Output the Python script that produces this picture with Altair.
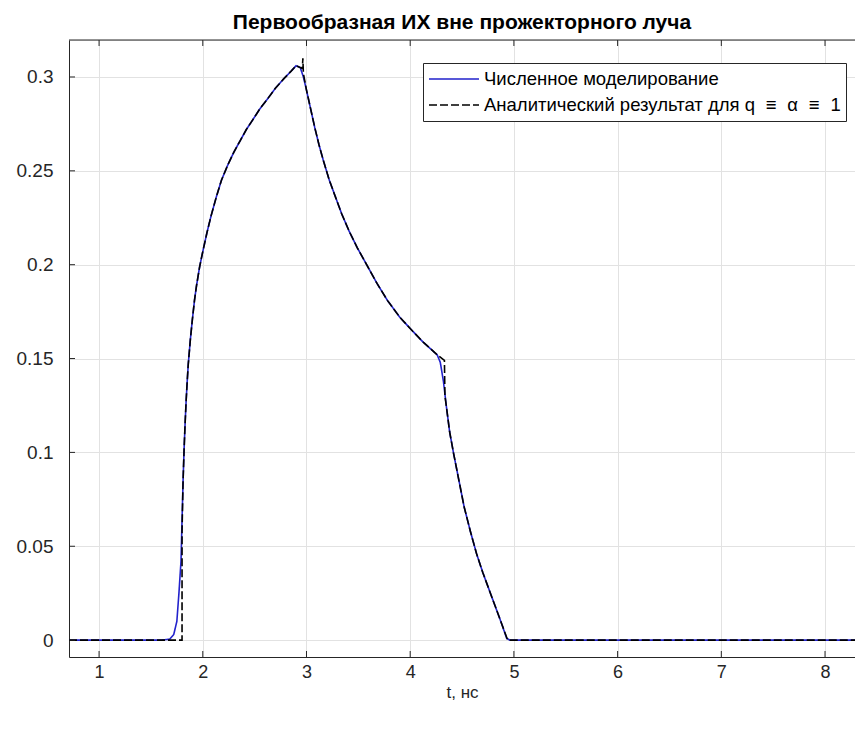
import altair as alt
import pandas as pd

SP = "\u2002\u200a"
NUM = "Численное моделирование"
ANA = "Аналитический результат для q" + SP + "≡" + SP + "α" + SP + "≡" + SP + "1"

t_num = [0.71, 1.60, 1.68, 1.72, 1.75, 1.77, 1.79, 1.80, 1.81, 1.82, 1.83, 1.84, 1.85, 1.86,
         1.88, 1.90, 1.92, 1.94, 1.97, 2.00, 2.04, 2.08, 2.13, 2.18, 2.24, 2.30, 2.36, 2.42,
         2.48, 2.55, 2.62, 2.70, 2.78, 2.85, 2.90, 2.94, 2.97, 3.00, 3.04, 3.08, 3.12, 3.16,
         3.22, 3.28, 3.34, 3.41, 3.49, 3.58, 3.68, 3.78, 3.90, 4.00, 4.12, 4.20, 4.26, 4.29,
         4.32, 4.35, 4.38, 4.42, 4.47, 4.52, 4.58, 4.64, 4.70, 4.76, 4.82, 4.88, 4.93, 4.96, 8.50]
y_num = [0.0, 0.0, 0.0005, 0.003, 0.010, 0.025, 0.042, 0.064, 0.085, 0.102, 0.116, 0.128, 0.138, 0.147,
         0.160, 0.171, 0.181, 0.189, 0.199, 0.207, 0.217, 0.226, 0.236, 0.245, 0.253, 0.260, 0.266, 0.272,
         0.277, 0.283, 0.288, 0.294, 0.299, 0.303, 0.306, 0.305, 0.300, 0.293, 0.283, 0.273, 0.264, 0.256,
         0.245, 0.236, 0.227, 0.218, 0.209, 0.200, 0.190, 0.181, 0.172, 0.166, 0.159, 0.155, 0.152, 0.148,
         0.138, 0.124, 0.111, 0.099, 0.085, 0.071, 0.058, 0.046, 0.036, 0.027, 0.018, 0.009, 0.001, 0.0, 0.0]

t_ana = [0.71, 1.80, 1.80, 1.81, 1.82, 1.83, 1.84, 1.85, 1.86, 1.88, 1.90, 1.92, 1.94, 1.97,
         2.00, 2.04, 2.08, 2.13, 2.18, 2.24, 2.30, 2.36, 2.42, 2.48, 2.55, 2.62, 2.70, 2.78,
         2.85, 2.90, 2.96, 2.965, 2.97, 3.00, 3.04, 3.08, 3.12, 3.16, 3.22, 3.28, 3.34, 3.41,
         3.49, 3.58, 3.68, 3.78, 3.90, 4.00, 4.12, 4.20, 4.26, 4.33, 4.335, 4.35, 4.38, 4.42,
         4.47, 4.52, 4.58, 4.64, 4.70, 4.76, 4.82, 4.88, 4.94, 8.50]
y_ana = [0.0, 0.0, 0.058, 0.085, 0.102, 0.116, 0.128, 0.138, 0.147, 0.160, 0.171, 0.181, 0.189, 0.199,
         0.207, 0.217, 0.226, 0.236, 0.245, 0.253, 0.260, 0.266, 0.272, 0.277, 0.283, 0.288, 0.294, 0.299,
         0.303, 0.306, 0.3045, 0.310, 0.302, 0.293, 0.283, 0.273, 0.264, 0.256, 0.245, 0.236, 0.227, 0.218,
         0.209, 0.200, 0.190, 0.181, 0.172, 0.166, 0.159, 0.155, 0.152, 0.149, 0.130, 0.124, 0.111, 0.099,
         0.085, 0.071, 0.058, 0.046, 0.036, 0.027, 0.018, 0.009, 0.0, 0.0]

x_ticks = [1, 2, 3, 4, 5, 6, 7, 8]
y_ticks = [0, 0.05, 0.1, 0.15, 0.2, 0.25, 0.3]

W, H = 786, 617

df_num = pd.DataFrame({"t": t_num, "v": y_num, "series": NUM, "i": range(len(t_num))})
df_ana = pd.DataFrame({"t": t_ana, "v": y_ana, "series": ANA, "i": range(len(t_ana))})

xscale = alt.Scale(domain=[0.71, 8.289], nice=False, zero=False)
yscale = alt.Scale(domain=[-0.009, 0.3197], nice=False, zero=False)

FONT = "Liberation Sans"
TXT = "#262626"
GRID = "#e2e2e2"

x_enc = alt.X("t:Q", scale=xscale, axis=alt.Axis(
    values=x_ticks, format="d", title="t, нс", grid=True, tickSize=0,
    domain=True, domainColor=TXT, domainWidth=1,
    labelPadding=6, labelFontSize=18, labelFont=FONT,
    labelColor=TXT, titleFontSize=17, titleFont=FONT,
    titleFontWeight="normal", titleColor=TXT, titlePadding=3, gridColor=GRID))
y_enc = alt.Y("v:Q", scale=yscale, axis=alt.Axis(
    values=y_ticks, format="~g", title=None, grid=True, tickSize=0,
    domain=True, domainColor=TXT, domainWidth=1,
    labelPadding=16, labelFontSize=19, labelFont=FONT, labelColor=TXT, gridColor=GRID))


def make_legend():
    return alt.Legend(title=None, orient="none", legendX=354, legendY=23,
                      symbolType="stroke", symbolSize=2500, symbolStrokeWidth=1.6,
                      clipHeight=22, labelFontSize=18.5, labelFont=FONT, labelColor="#000000",
                      strokeColor="#262626", fillColor="white", padding=5,
                      labelOffset=4, rowPadding=4, labelLimit=600)


color = alt.Color("series:N", scale=alt.Scale(domain=[NUM, ANA], range=["#2222cc", "#000000"]),
                  legend=make_legend())
dash = alt.StrokeDash("series:N", scale=alt.Scale(domain=[NUM, ANA], range=[[1, 0], [8, 3]]),
                      legend=make_legend())

blue = alt.Chart(df_num).mark_line(clip=True, strokeWidth=1.6).encode(
    x=x_enc, y=y_enc, color=color, strokeDash=dash, order="i:Q")
black = alt.Chart(df_ana).mark_line(clip=True, strokeWidth=1.6).encode(
    x="t:Q", y="v:Q", color=color, strokeDash=dash, order="i:Q")

df_xt = pd.DataFrame({"t": x_ticks})
df_yt = pd.DataFrame({"v": y_ticks})
xt_bottom = alt.Chart(df_xt).mark_rule(color=TXT, strokeWidth=1).encode(
    x="t:Q", y=alt.value(H), y2=alt.value(H - 6))
xt_top = alt.Chart(df_xt).mark_rule(color=TXT, strokeWidth=1).encode(
    x="t:Q", y=alt.value(0), y2=alt.value(6))
yt_left = alt.Chart(df_yt).mark_rule(color=TXT, strokeWidth=1).encode(
    y="v:Q", x=alt.value(0), x2=alt.value(6))
top_line = alt.Chart(df_xt.head(1)).mark_rule(color=TXT, strokeWidth=1).encode(
    y=alt.value(0), x=alt.value(0), x2=alt.value(W))

chart = alt.layer(blue, black, xt_bottom, xt_top, yt_left, top_line).properties(
    width=W, height=H,
    title=alt.TitleParams("Первообразная ИХ вне прожекторного луча", fontSize=21,
                          fontWeight="bold", font=FONT, color="#000000", anchor="middle", offset=7),
    autosize=alt.AutoSizeParams(type="none"),
    padding={"left": 61, "top": 32, "right": 0, "bottom": 60},
).configure_view(strokeWidth=0).configure(background="white")

chart.save("out.html", embed_options={"renderer": "svg", "actions": False})
